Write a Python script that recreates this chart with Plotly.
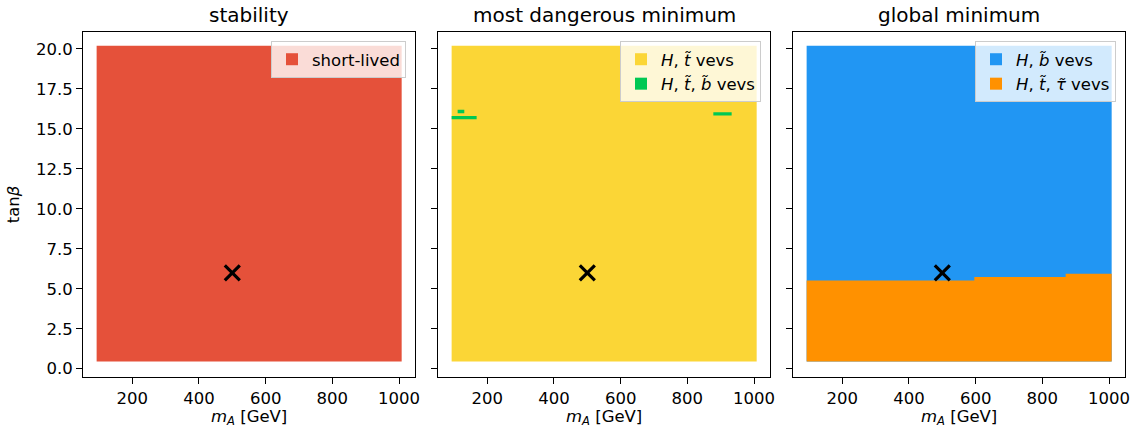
import plotly.graph_objects as go

# ---- data ----
mA_range = [93, 1008]          # scanned m_A extent [GeV]
tb_range = [0.45, 20.2]        # scanned tan(beta) extent
benchmark_mA = [500]
benchmark_tb = [6.0]

# global minimum: upper edge of the H,t~,tau~ region (step function)
orange_edge_mA = [93, 596, 870, 1008]
orange_edge_tb = [5.52, 5.73, 5.94]

# most dangerous minimum: small H,t~,b~ islands (mA0, mA1, tb0, tb1)
green_mA0 = [93, 111, 878]
green_mA1 = [168, 131, 933]
green_tb0 = [15.61, 15.98, 15.83]
green_tb1 = [15.81, 16.19, 16.04]

titles = ["stability", "most dangerous minimum", "global minimum"]
x_ticks = [200, 400, 600, 800, 1000]
y_ticks = [0, 2.5, 5, 7.5, 10, 12.5, 15, 17.5, 20]

RED = "#e5513a"
YELLOW = "#fbd636"
GREEN = "#00c853"
BLUE = "#2196f3"
ORANGE = "#ff9100"

W, H = 1136, 428
FONT = "DejaVu Sans"
FS = 16.5

def rect(x0, x1, y0, y1):
    return [x0, x1, x1, x0, x0], [y0, y0, y1, y1, y0]

fig = go.Figure()

def add_fill(xs, ys, color, ax):
    fig.add_trace(go.Scatter(x=xs, y=ys, fill="toself", fillcolor=color, mode="lines",
                             line=dict(width=0, color=color), showlegend=False,
                             hoverinfo="skip", xaxis="x" + ax, yaxis="y" + ax))

def add_legend(name, color, ax, leg):
    fig.add_trace(go.Scatter(x=[None], y=[None], mode="markers", name=name,
                             marker=dict(symbol="square", size=10, color=color),
                             xaxis="x" + ax, yaxis="y" + ax, legend=leg))

def add_cross(ax):
    fig.add_trace(go.Scatter(x=benchmark_mA, y=benchmark_tb, mode="markers",
                             marker=dict(symbol="x-thin", size=15, line=dict(width=3.2, color="black")),
                             showlegend=False, hoverinfo="skip", xaxis="x" + ax, yaxis="y" + ax))

# panel 1
xs, ys = rect(mA_range[0], mA_range[1], tb_range[0], tb_range[1])
add_fill(xs, ys, RED, "")
add_legend("short-lived", RED, "", "legend")
add_cross("")

# panel 2
add_fill(xs, ys, YELLOW, "2")
for a, b, c, d in zip(green_mA0, green_mA1, green_tb0, green_tb1):
    gx, gy = rect(a, b, c, d)
    add_fill(gx, gy, GREEN, "2")
add_legend("<i>H</i>, <i>t\u0303</i> vevs", YELLOW, "2", "legend2")
add_legend("<i>H</i>, <i>t\u0303</i>, <i>b\u0303</i> vevs", GREEN, "2", "legend2")
add_cross("2")

# panel 3
add_fill(xs, ys, BLUE, "3")
ox = [orange_edge_mA[0]]
oy = [tb_range[0]]
ox.append(orange_edge_mA[0]); oy.append(orange_edge_tb[0])
for i, t in enumerate(orange_edge_tb):
    ox.append(orange_edge_mA[i + 1]); oy.append(t)
    if i + 1 < len(orange_edge_tb):
        ox.append(orange_edge_mA[i + 1]); oy.append(orange_edge_tb[i + 1])
ox.append(orange_edge_mA[-1]); oy.append(tb_range[0])
ox.append(orange_edge_mA[0]); oy.append(tb_range[0])
add_fill(ox, oy, ORANGE, "3")
add_legend("<i>H</i>, <i>b\u0303</i> vevs", BLUE, "3", "legend3")
add_legend("<i>H</i>, <i>t\u0303</i>, <i>τ\u0303</i> vevs", ORANGE, "3", "legend3")
add_cross("3")

# layout geometry (pixels)
left_px = [83.3, 438.3, 793.3]
width_px = 331.7
top_px, bot_px = 32, 377
ydom = [1 - bot_px / H, 1 - top_px / H]

axis_common = dict(showline=True, linecolor="black", linewidth=1.3, mirror=True,
                   ticks="outside", ticklen=6, tickwidth=1.3, tickcolor="black",
                   showgrid=False, zeroline=False, automargin=False,
                   tickfont=dict(size=FS, color="black", family=FONT))

layout = dict(width=W, height=H, margin=dict(l=0, r=0, t=0, b=0, autoexpand=False),
              plot_bgcolor="white", paper_bgcolor="white",
              font=dict(family=FONT, color="black"))
annotations = []
for i in range(3):
    sfx = "" if i == 0 else str(i + 1)
    x0 = left_px[i] / W
    x1 = (left_px[i] + width_px) / W
    layout["xaxis" + sfx] = dict(domain=[x0, x1], range=[53, 1048], tickvals=x_ticks,
                                 anchor="y" + sfx,
                                 title=dict(text="<i>m</i><sub><i>A</i></sub> [GeV]",
                                            font=dict(size=FS, family=FONT), standoff=2),
                                 **axis_common)
    layout["yaxis" + sfx] = dict(domain=ydom, range=[-0.52, 21.06], tickvals=y_ticks,
                                 tickformat=".1f", anchor="x" + sfx,
                                 showticklabels=(i == 0),
                                 title=dict(text="tan<i>β</i>" if i == 0 else "",
                                            font=dict(size=FS, family=FONT), standoff=12),
                                 **axis_common)
    annotations.append(dict(text=titles[i], x=(x0 + x1) / 2, y=1 - 29 / H,
                            xref="paper", yref="paper", xanchor="center", yanchor="bottom",
                            showarrow=False, font=dict(size=20, family=FONT, color="black")))
    leg_name = "legend" if i == 0 else "legend" + str(i + 1)
    layout[leg_name] = dict(x=(left_px[i] + width_px - 9) / W, y=1 - 41 / H,
                            xanchor="right", yanchor="top",
                            bgcolor="rgba(255,255,255,0.8)", bordercolor="#cccccc",
                            borderwidth=1, font=dict(size=FS, family=FONT, color="black"),
                            itemsizing="constant", tracegroupgap=0)

layout["annotations"] = annotations
fig.update_layout(**layout)
fig.write_html("out.html")
